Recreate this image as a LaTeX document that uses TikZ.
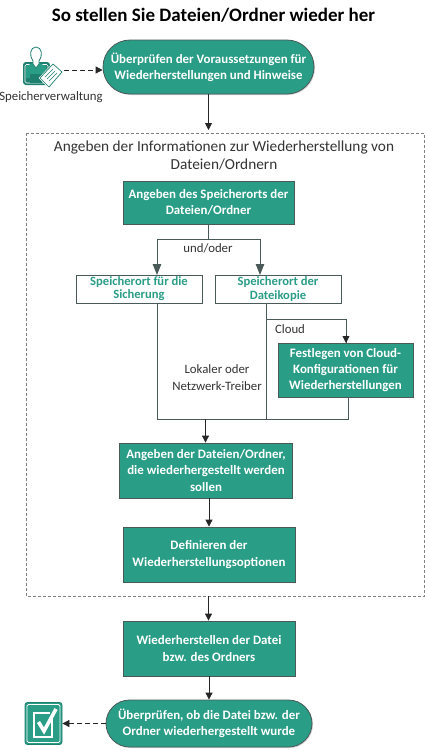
\documentclass[tikz,border=0pt]{standalone}
\usepackage{fontspec}
\setmainfont{Carlito}
\usetikzlibrary{arrows.meta,shapes.misc,shadows}
\definecolor{teal1}{HTML}{2A9D87}
\definecolor{teal2}{HTML}{1F7F6E}
\definecolor{edge}{HTML}{4A5A58}
\definecolor{txt}{HTML}{333333}
\tikzset{
 x=1pt,y=-1pt,
 fillbox/.style={draw=edge,line width=.8pt,fill=teal1,text=white,font=\fontsize{12.9}{16.2}\selectfont\bfseries,align=center,inner sep=0pt,minimum width=#1,drop shadow={shadow xshift=1pt,shadow yshift=-1pt,fill=black!35}},
 pill/.style={fillbox=#1,rounded rectangle},
 whitebox/.style={draw=edge,line width=.9pt,fill=white,text=teal1,font=\fontsize{12.6}{13.2}\selectfont\bfseries,align=center,inner sep=0pt,minimum width=126pt,minimum height=28pt},
 lab/.style={text=txt,font=\fontsize{12.8}{16.5}\selectfont,align=center,inner sep=0pt},
 conn/.style={draw=black!85,line width=.8pt},
 tipS/.style={-{Triangle[length=7pt,width=7pt]}},
 tipL/.style={-{Triangle[length=11pt,width=8.5pt]},draw=edge},
}
\begin{document}
\begin{tikzpicture}
\useasboundingbox (0,0) rectangle (425,750);
\node[font=\fontsize{19}{20}\selectfont\bfseries,inner sep=0pt] (title) at (213.5,15.5) {So stellen Sie Dateien/Ordner wieder her};

% person icon
\fill[teal2,rounded corners=3pt] (23,62) rectangle (50,85);
\draw[white,line width=.6pt,rounded corners=1.5pt] (25,64.5) rectangle (48,83);
\fill[teal1] (26,66) -- (33,63) -- (36,68) -- (39,63) -- (46,66) -- (46,78) -- (26,78) -- cycle;
\fill[teal2] (30,74) rectangle (42,83);
\draw[teal2,line width=.8pt,fill=white] (33,61) .. controls (29,56) and (30,47) .. (36,47) .. controls (42,47) and (43,56) .. (39,61) -- (39,64) -- (36,68) -- (33,64) -- cycle;
\draw[white,line width=1.8pt] (40,78) -- (53,64) -- (62,72) -- (49,87) -- cycle;
\draw[teal2,line width=.7pt,fill=white] (40,78) -- (53,64) -- (62,72) -- (49,87) -- cycle;
\draw[teal2,line width=.5pt] (45,77) -- (53,69) (47,79) -- (55,71) (49,81) -- (57,73);
\coordinate (personout) at (64,70);
\node[lab,text=txt] (personlab) at (51,97) {Speicherverwaltung};

\node[pill=211pt,minimum height=54pt] (p1) at (208.5,67) {Überprüfen der Voraussetzungen für\\Wiederherstellungen und Hinweise};
\draw[conn,tipS,dashed,dash pattern=on 5pt off 3pt] (personout) -- (personout -| p1.west);

\coordinate (boxtop) at (208.5,130);
\draw[draw=gray,dashed,dash pattern=on 3pt off 2pt,line width=.8pt] (26,133) rectangle (424.5,596);
\draw[conn,tipS] (p1.south) -- (boxtop);
\node[lab,font=\fontsize{15.3}{18}\selectfont] (head) at (224,156) {Angeben der Informationen zur Wiederherstellung von\\Dateien/Ordnern};

\node[fillbox=171pt,minimum height=43pt] (a) at (208.5,202.5) {Angeben des Speicherorts der\\Dateien/Ordner};
\node[whitebox] (b1) at (139,289) {Speicherort für die\\Sicherung};
\node[whitebox] (b2) at (278,289) {Speicherort der\\Dateikopie};
\node[fillbox=135pt,minimum height=54pt] (c) at (345.5,370) {Festlegen von Cloud-\\Konfigurationen für\\Wiederherstellungen};
\node[lab] (und) at (208,248) {und/oder};
\node[lab] (cl) at (290,329) {Cloud};
\node[lab] (lok) at (217,377.5) {Lokaler oder\\Netzwerk-Treiber};

\coordinate (j0) at (208,239);
\coordinate (j1l) at (157,275);
\coordinate (j1r) at (260,275);
\coordinate (b1o) at (157,303);
\coordinate (b2o) at (266,303);
\coordinate (b2j) at (266,319);
\coordinate (cin) at (346,343);
\coordinate (cout) at (348,397);
\coordinate (bl) at (157,419);
\coordinate (bm) at (266,419);
\coordinate (br) at (348,419);
\draw[conn,draw=edge,line width=.9pt] (a.south -| j0) -- (j0);
\draw[conn,tipL,line width=.9pt] (j0) -| (j1l);
\draw[conn,tipL,line width=.9pt] (j0) -| (j1r);
\draw[conn,draw=edge,line width=.9pt] (b1o) -- (bl) -- (br) -- (cout);
\draw[conn,draw=edge,line width=.9pt] (b2o) -- (bm);
\draw[conn,draw=edge,line width=.9pt] (b2j) -| (cin);
\draw[conn,tipS,line width=.9pt] (346,335) -- (cin);

\node[fillbox=172.5pt,minimum height=55pt] (d) at (206,470.5) {Angeben der Dateien/Ordner,\\die wiederhergestellt werden\\sollen};
\node[fillbox=172pt,minimum height=55pt] (e) at (209,554.5) {Definieren der\\Wiederherstellungsoptionen};
\node[fillbox=172pt,minimum height=55pt] (f) at (209,648.5) {Wiederherstellen der Datei\\bzw. des Ordners};
\node[pill=206pt,minimum height=47pt] (g) at (209,723.5) {Überprüfen, ob die Datei bzw. der\\Ordner wiederhergestellt wurde};
\coordinate (j1) at (205.5,419);
\coordinate (boxbot) at (208.5,596);
\draw[conn,tipS] (j1) -- (j1 |- d.north);
\draw[conn,tipS] (d.south -| e.north) -- (e.north);
\draw[conn,tipS] (boxbot) -- (boxbot |- f.north);
\draw[conn,tipS] (f.south) -- (g.north);

% check icon
\node[draw=teal2,line width=.8pt,fill=teal1,rounded corners=2.5pt,minimum width=37pt,minimum height=42pt,inner sep=0pt] (chk) at (43.5,723.5) {};
\draw[white,line width=.8pt,rounded corners=1.5pt] (27,704.5) rectangle (60,742.5);
\draw[white,line width=1.5pt] (52,718) -- (52,737) -- (34,737) -- (34,713) -- (50,713);
\draw[white,line width=3.6pt] (38.5,722) -- (44,731) -- (56,709);
\draw[conn,tipS,dashed,dash pattern=on 5pt off 3pt] (g.west) -- (chk.east |- g.west);
\end{tikzpicture}
\end{document}
